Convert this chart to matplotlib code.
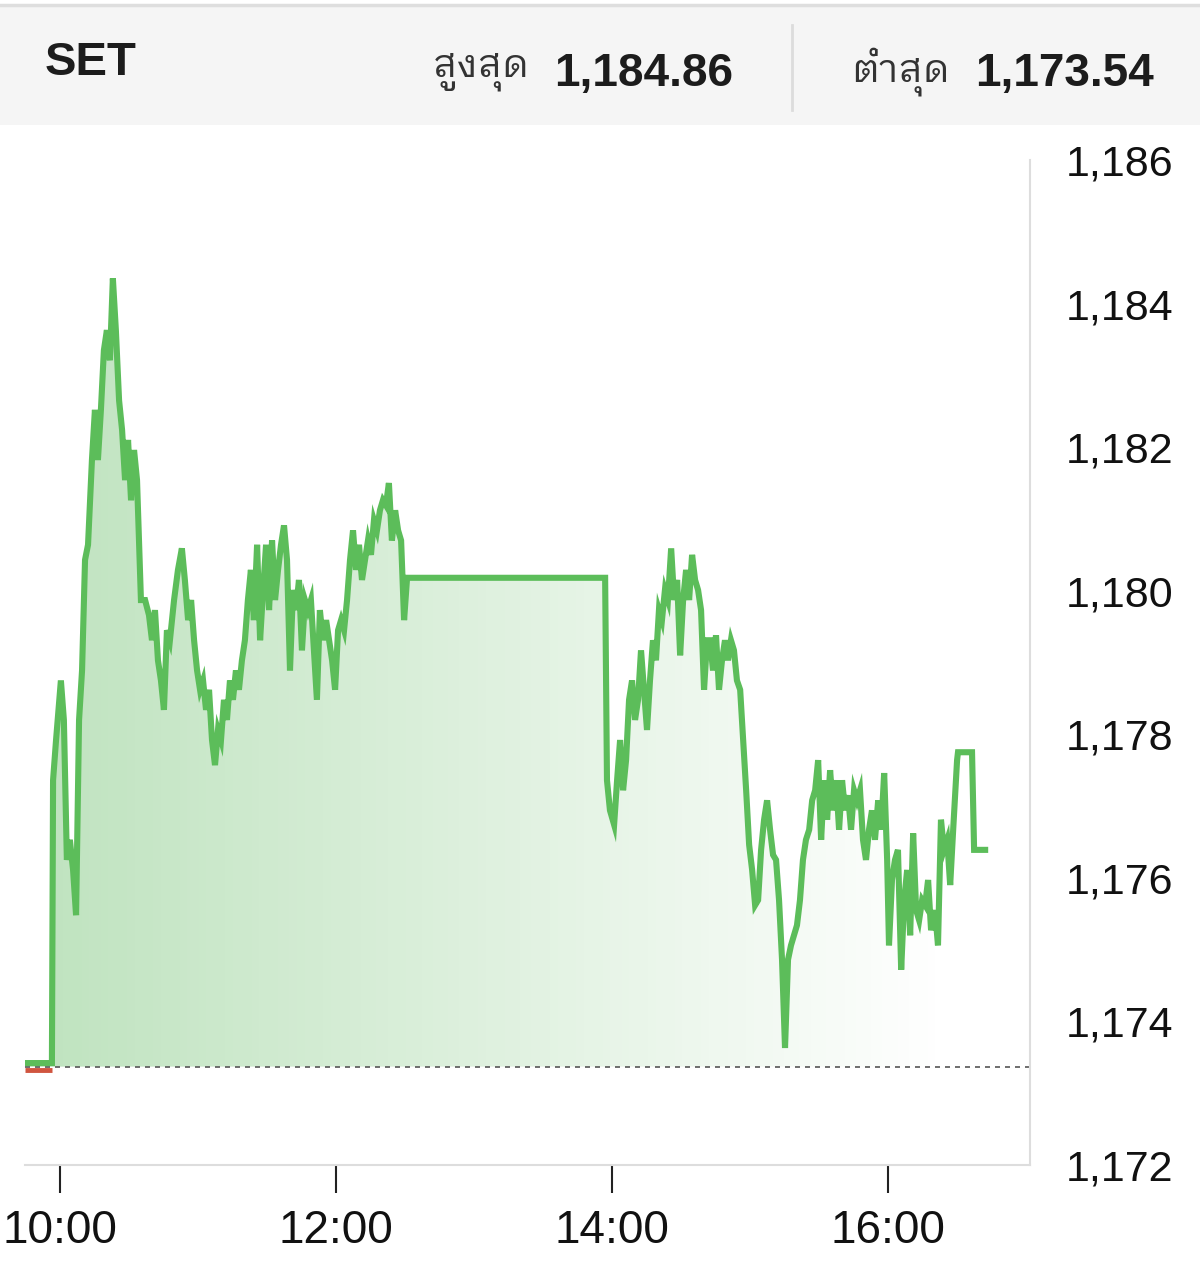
import matplotlib
matplotlib.use("Agg")
import matplotlib.pyplot as plt
from matplotlib.patches import PathPatch, Rectangle
from matplotlib.lines import Line2D
import numpy as np


INDEX_NAME = "SET"
HIGH_LABEL = "สูงสุด"
LOW_LABEL = "ต่ำสุด"
DAY_HIGH = 1184.86
DAY_LOW = 1173.54
PREV_CLOSE = 1173.37

# minutes after 10:00 and index level
minutes = [
    -15.2, -3.5, -3.0, -1.7, 0.4, 1.7, 3.0, 4.3, 5.7, 7.0, 8.3, 9.6, 10.9, 12.2, 13.9,
    15.2, 16.5, 17.8, 19.1, 20.4, 21.7, 23.0, 24.3, 25.7, 27.0, 28.3, 29.6, 30.9, 32.2,
    33.5, 35.2, 37.0, 38.7, 40.0, 41.3, 42.6, 43.9, 45.2, 46.5, 47.8, 49.6, 51.3, 53.0,
    54.3, 55.7, 57.0, 58.3, 59.6, 60.9, 62.2, 63.5, 64.8, 66.1, 67.4, 68.7, 70.0, 71.3,
    72.6, 73.9, 75.2, 76.5, 77.8, 79.1, 80.4, 81.7, 83.0, 84.3, 85.7, 87.0, 88.3, 89.6,
    90.9, 92.2, 93.5, 94.8, 96.1, 97.4, 98.7, 100.0, 101.3, 102.6, 103.9, 105.2, 106.5,
    107.8, 109.1, 110.4, 111.7, 113.0, 114.3, 115.7, 117.0, 118.3, 119.6, 120.9, 122.2,
    123.5, 124.8, 126.1, 127.4, 128.7, 130.0, 131.3, 132.6, 133.9, 135.2, 136.5, 137.8,
    139.1, 140.4, 141.7, 143.0, 144.3, 145.7, 147.0, 148.3, 149.6, 150.9,
    237.0, 237.8, 239.1, 240.9, 242.2, 243.5, 244.8, 246.1, 247.4, 248.7, 250.0, 251.3,
    252.6, 253.9, 255.2, 256.5, 257.8, 259.1, 260.4, 261.7, 263.0, 264.3, 265.7, 267.0,
    268.3, 269.6, 270.9, 272.2, 273.5, 274.8, 276.1, 277.4, 278.7, 280.0, 281.3, 282.6,
    283.9, 285.2, 286.5, 287.8, 289.1, 290.4, 291.7, 293.0, 294.3, 295.7, 297.0, 298.3,
    299.6, 300.9, 302.2, 303.5, 304.8, 306.1, 307.4, 308.7, 310.0, 311.3, 312.6, 313.9,
    315.2, 316.5, 317.8, 319.1, 320.4, 321.7, 323.0, 324.3, 325.7, 327.0, 328.3, 329.6,
    330.9, 332.2, 333.5, 334.8, 336.1, 337.4, 338.7, 340.0, 341.3, 342.6, 343.9, 345.2,
    346.5, 347.8, 349.1, 350.4, 351.7, 353.0, 354.3, 355.7, 357.0, 358.3, 359.6, 360.4,
    361.7, 363.0, 364.3, 365.7, 367.0, 368.3, 369.6, 370.9, 372.2, 373.5, 374.8, 376.1,
    377.4, 378.7, 380.4, 381.7, 383.0, 384.3, 385.7, 387.0, 388.3, 390.0, 390.4, 396.5,
    397.4, 402.2,
]
levels = [
    1173.42, 1173.42, 1177.36, 1177.92, 1178.75, 1178.20, 1176.25, 1176.53, 1176.11, 1175.48,
    1178.20, 1178.89, 1180.43, 1180.64, 1181.82, 1182.52, 1181.82, 1182.52, 1183.35, 1183.63,
    1183.21, 1184.35, 1183.63, 1182.65, 1182.24, 1181.54, 1182.10, 1181.26, 1181.96, 1181.54,
    1179.87, 1179.87, 1179.66, 1179.31, 1179.73, 1179.03, 1178.75, 1178.34, 1179.45, 1179.31,
    1179.87, 1180.29, 1180.59, 1180.15, 1179.59, 1179.87, 1179.31, 1178.89, 1178.62, 1178.75,
    1178.34, 1178.62, 1177.92, 1177.57, 1178.06, 1177.92, 1178.48, 1178.20, 1178.75, 1178.48,
    1178.89, 1178.62, 1179.03, 1179.31, 1179.87, 1180.29, 1179.59, 1180.64, 1179.31, 1180.01,
    1180.64, 1179.73, 1180.70, 1179.87, 1180.29, 1180.64, 1180.91, 1180.43, 1178.89, 1180.01,
    1179.73, 1180.15, 1179.17, 1179.87, 1179.73, 1179.87, 1179.17, 1178.48, 1179.73, 1179.31,
    1179.59, 1179.31, 1179.03, 1178.62, 1179.45, 1179.59, 1179.45, 1179.87, 1180.43, 1180.84,
    1180.29, 1180.64, 1180.15, 1180.43, 1180.70, 1180.50, 1180.98, 1180.84, 1181.12, 1181.26,
    1181.19, 1181.50, 1180.70, 1181.12, 1180.84, 1180.70, 1179.59, 1180.18,
    1180.18, 1177.36, 1176.94, 1176.74, 1177.36, 1177.92, 1177.22, 1177.64, 1178.48, 1178.75,
    1178.20, 1178.48, 1179.17, 1178.62, 1178.06, 1178.75, 1179.31, 1179.03, 1179.73, 1179.59,
    1180.01, 1179.87, 1180.59, 1179.87, 1180.15, 1179.10, 1179.87, 1180.29, 1179.87, 1180.50,
    1180.15, 1180.01, 1179.73, 1178.62, 1179.31, 1179.31, 1178.89, 1179.38, 1178.62, 1179.03,
    1179.31, 1179.03, 1179.31, 1179.17, 1178.75, 1178.62, 1177.92, 1177.22, 1176.46, 1176.11,
    1175.62, 1175.69, 1176.39, 1176.81, 1177.08, 1176.67, 1176.32, 1176.25, 1175.69, 1174.86,
    1173.63, 1174.86, 1175.06, 1175.20, 1175.34, 1175.69, 1176.25, 1176.53, 1176.67, 1177.08,
    1177.22, 1177.64, 1176.53, 1177.36, 1176.81, 1177.50, 1176.94, 1177.36, 1176.67, 1177.36,
    1176.94, 1177.15, 1176.67, 1177.22, 1177.08, 1177.22, 1176.53, 1176.25, 1176.67, 1176.94,
    1176.53, 1177.08, 1176.67, 1177.46, 1176.25, 1175.06, 1175.97, 1176.25, 1176.39, 1174.72,
    1175.69, 1176.11, 1175.20, 1176.62, 1175.55, 1175.41, 1175.69, 1175.62, 1175.97, 1175.27,
    1175.55, 1175.06, 1176.81, 1176.39, 1176.53, 1175.90, 1176.67, 1177.64, 1177.75, 1177.75,
    1176.39, 1176.39,
]

tick_minutes = [0, 120, 240, 360]
tick_labels = ["10:00", "12:00", "14:00", "16:00"]
y_ticks = [1172, 1174, 1176, 1178, 1180, 1182, 1184, 1186]

LINE_GREEN = "#5cbd5a"
FILL_GREEN = np.array([92, 184, 92]) / 255.0
NUM_FONT = ["Liberation Sans", "DejaVu Sans"]
THAI_FONT = ["IBM Plex Sans Thai Looped", "DejaVu Sans"]

W, H = 1200, 1280
fig = plt.figure(figsize=(W / 100, H / 100), dpi=100)


def fx(px):
    return px / W


def fy(py):
    return 1 - py / H


# header band
fig.patches.append(Rectangle((0, fy(125)), 1, fy(6) - fy(125), transform=fig.transFigure,
                             facecolor="#f5f5f5", edgecolor="none", zorder=0))
fig.lines.append(Line2D([0, 1], [fy(5), fy(5)], transform=fig.transFigure,
                        color="#dedede", linewidth=2.5))
fig.lines.append(Line2D([fx(792), fx(792)], [fy(25), fy(110)], transform=fig.transFigure,
                        color="#dcdcdc", linewidth=2))

fig.text(fx(45), fy(63), INDEX_NAME, family=NUM_FONT, weight="bold", fontsize=34,
         color="#1c1c1c", va="center", ha="left")
fig.text(fx(433), fy(72), HIGH_LABEL, family=THAI_FONT, fontsize=28,
         color="#333333", va="center", ha="left")
fig.text(fx(733), fy(74), f"{DAY_HIGH:,.2f}", family=NUM_FONT, weight="bold", fontsize=33,
         color="#1c1c1c", va="center", ha="right")
fig.text(fx(851), fy(72), LOW_LABEL, family=THAI_FONT, fontsize=28,
         color="#333333", va="center", ha="left")
fig.text(fx(1154), fy(74), f"{DAY_LOW:,.2f}", family=NUM_FONT, weight="bold", fontsize=33,
         color="#1c1c1c", va="center", ha="right")

# chart
ax = fig.add_axes([fx(25), fy(1165), fx(1030) - fx(25), fy(160) - fy(1165)])
x_lo, x_hi = -15.2, 421.7

# gradient fill under the line, clipped to the area between line and prev close
poly = ax.fill_between(minutes, levels, PREV_CLOSE, facecolor="none", edgecolor="none")
clip = PathPatch(poly.get_paths()[0], facecolor="none", edgecolor="none", transform=ax.transData)
ax.add_patch(clip)
grad = np.zeros((2, 256, 4))
grad[..., :3] = FILL_GREEN
grad[..., 3] = np.clip(np.linspace(0.40, -0.02, 256), 0, 1)[None, :]
img = ax.imshow(grad, extent=[x_lo, 405, PREV_CLOSE, 1186], aspect="auto",
                origin="lower", zorder=1)
img.set_clip_path(clip)

ax.axhline(PREV_CLOSE, color="#555555", linewidth=1.2, linestyle=(0, (3, 3)), zorder=2)
ax.plot(minutes[:2], [PREV_CLOSE - 0.04] * 2, color="#d0553f", linewidth=3.5,
        solid_capstyle="butt", zorder=3)
ax.plot(minutes, levels, color=LINE_GREEN, linewidth=4.4, solid_joinstyle="miter",
        zorder=4)

ax.set_xlim(x_lo, x_hi)
ax.set_ylim(1172, 1186)
ax.set_xticks(tick_minutes)
ax.set_xticklabels(tick_labels, family=NUM_FONT, fontsize=33)
ax.set_yticks(y_ticks)
ax.set_yticklabels([f"{v:,}" for v in y_ticks], family=NUM_FONT, fontsize=31)
ax.yaxis.tick_right()
ax.tick_params(axis="y", length=0, pad=26, labelcolor="#111111")
ax.tick_params(axis="x", length=20, width=1.5, color="#222222", pad=12,
               labelcolor="#111111")

for side in ["top", "left"]:
    ax.spines[side].set_visible(False)
for side in ["right", "bottom"]:
    ax.spines[side].set_color("#dddddd")
    ax.spines[side].set_linewidth(1.5)

fig.savefig("out.png", dpi=100)
